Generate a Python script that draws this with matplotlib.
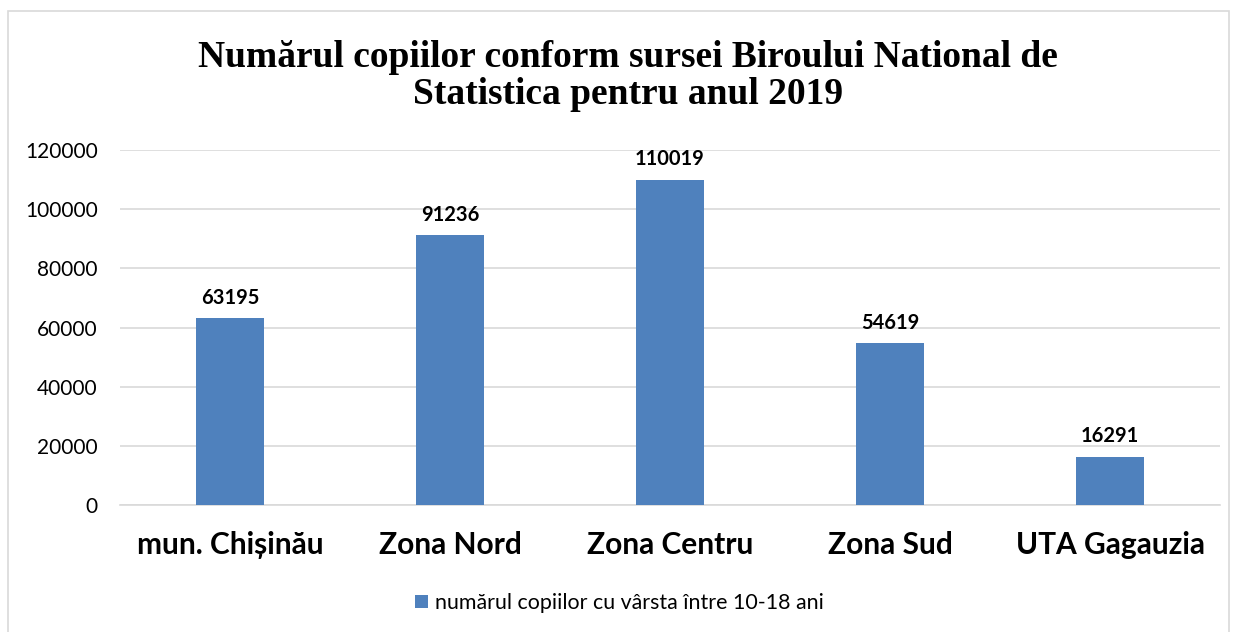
import matplotlib.pyplot as plt
from matplotlib.patches import Rectangle

categories = ["mun. Chișinău", "Zona Nord", "Zona Centru", "Zona Sud", "UTA Gagauzia"]
values = [63195, 91236, 110019, 54619, 16291]
yticks = [0, 20000, 40000, 60000, 80000, 100000, 120000]
series_name = "numărul copiilor cu vârsta între 10-18 ani"
title = "Numărul copiilor conform sursei Biroului National de\nStatistica pentru anul 2019"

colors = {"bar": "#4F81BD", "grid": "#D9D9D9", "text": "#000000", "border": "#D9D9D9"}

fig = plt.figure(figsize=(12.39, 6.32), dpi=100)
ax = fig.add_axes([120 / 1239, 1 - 505 / 632, 1100 / 1239, 355 / 632])

x = list(range(len(categories)))
bars = ax.bar(x, values, width=0.31, color=colors["bar"], label=series_name, zorder=3)

# data labels
for xi, v in zip(x, values):
    ax.text(xi, v + 3500, str(v), ha="center", va="bottom", fontsize=14.5,
            fontweight="bold", family="Lato", color=colors["text"])

ax.set_xlim(-0.5, len(categories) - 0.5)
ax.set_ylim(0, 120000)
ax.set_yticks(yticks)
ax.set_yticklabels([str(t) for t in yticks], family="Lato", fontsize=15)
ax.set_xticks(x)
ax.set_xticklabels(categories, family="Lato", fontsize=21.5, fontweight="bold")
ax.tick_params(axis="x", length=0, pad=19)
ax.tick_params(axis="y", length=0, pad=16)
ax.grid(axis="y", color=colors["grid"], linewidth=1.2, zorder=0)

for side in ["top", "right", "left"]:
    ax.spines[side].set_visible(False)
ax.spines["bottom"].set_color(colors["grid"])
ax.spines["bottom"].set_linewidth(1.2)

fig.text(628 / 1239, 1 - 76 / 632, title, ha="center", va="center", fontsize=27,
         fontweight="bold", family="Liberation Serif", linespacing=1.05)

leg = fig.legend(loc="center", bbox_to_anchor=(0.5, 1 - 603 / 632), frameon=False,
                 prop={"family": "Lato", "size": 15.4}, handlelength=0.6,
                 handleheight=0.6, handletextpad=0.3)

# outer chart border
fig.patches.append(Rectangle((8 / 1239, -0.01), 1221 / 1239, 1 - 11 / 632 + 0.01,
                             transform=fig.transFigure, fill=False,
                             edgecolor=colors["border"], linewidth=1.2))

plt.savefig("out.png")
